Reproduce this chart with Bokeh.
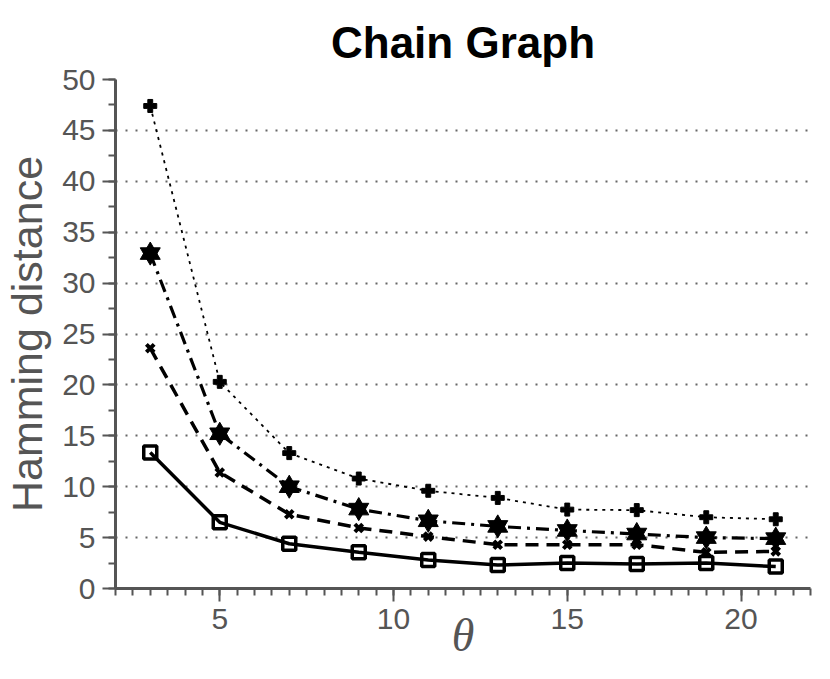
from bokeh.plotting import figure
from bokeh.models import Range1d, SingleIntervalTicker
from bokeh.embed import file_html
from bokeh.resources import INLINE

theta = [3, 5, 7, 9, 11, 13, 15, 17, 19, 21]
hd_square = [13.35, 6.5, 4.4, 3.55, 2.8, 2.3, 2.5, 2.4, 2.5, 2.15]
hd_cross = [23.6, 11.4, 7.3, 5.95, 5.1, 4.3, 4.3, 4.3, 3.55, 3.65]
hd_star = [32.9, 15.2, 10.0, 7.8, 6.65, 6.1, 5.7, 5.35, 5.0, 4.9]
hd_plus = [47.4, 20.3, 13.3, 10.8, 9.6, 8.9, 7.75, 7.7, 7.0, 6.8]

title_text = "Chain Graph"
x_label = "θ"
y_label = "Hamming distance"

GRAY = "#555555"
SANS = "Liberation Sans"

p = figure(width=814, height=663, x_range=Range1d(2, 22), y_range=Range1d(0, 50),
           output_backend="svg", toolbar_location=None, title=title_text,
           min_border_left=10, min_border_right=4, min_border_top=79, min_border_bottom=75)
p.outline_line_color = None
p.background_fill_color = "white"
p.border_fill_color = "white"

p.title.align = "center"
p.title.text_font = SANS
p.title.text_font_size = "44px"
p.title.text_font_style = "bold"
p.title.text_color = "black"
p.title.standoff = 26

for ax in (p.xaxis[0], p.yaxis[0]):
    ax.axis_line_color = GRAY
    ax.axis_line_width = 3
    ax.major_tick_line_color = GRAY
    ax.minor_tick_line_color = GRAY
    ax.major_tick_line_width = 2
    ax.minor_tick_line_width = 2
    ax.major_tick_in = 0
    ax.minor_tick_in = 0
    ax.major_tick_out = 13
    ax.minor_tick_out = 7
    ax.major_label_text_font = SANS
    ax.major_label_text_font_size = "30px"
    ax.major_label_text_color = GRAY

p.xaxis[0].ticker = SingleIntervalTicker(interval=5, num_minor_ticks=10)
p.yaxis[0].ticker = SingleIntervalTicker(interval=5, num_minor_ticks=2)
p.xaxis[0].major_label_standoff = 7
p.yaxis[0].major_label_standoff = 7

p.xaxis[0].axis_label = x_label
p.xaxis[0].axis_label_text_font = "Liberation Serif"
p.xaxis[0].axis_label_text_font_style = "italic"
p.xaxis[0].axis_label_text_font_size = "46px"
p.xaxis[0].axis_label_text_color = GRAY
p.xaxis[0].axis_label_standoff = -22

p.yaxis[0].axis_label = y_label
p.yaxis[0].axis_label_text_font = SANS
p.yaxis[0].axis_label_text_font_style = "normal"
p.yaxis[0].axis_label_text_font_size = "43px"
p.yaxis[0].axis_label_text_color = GRAY
p.yaxis[0].axis_label_standoff = 8

p.xgrid.visible = False
p.ygrid.grid_line_color = "#666666"
p.ygrid.grid_line_width = 1.8
p.ygrid.grid_line_dash = "2 8"

# dotted series with plus markers
p.line(theta, hd_plus, line_color="black", line_width=1.8, line_dash="3 5")
p.scatter(theta, hd_plus, marker="plus", size=13, fill_color="black", line_color="black", line_width=1)

# dash-dot series with hexagram markers
p.line(theta, hd_star, line_color="black", line_width=3.2, line_dash="13 6 3 6")
p.scatter(theta, hd_star, marker="triangle", size=20, fill_color="black", line_color="black", line_width=1)
p.scatter(theta, hd_star, marker="inverted_triangle", size=20, fill_color="black", line_color="black", line_width=1)

# dashed series with x markers
p.line(theta, hd_cross, line_color="black", line_width=3.5, line_dash="13 8")
p.scatter(theta, hd_cross, marker="x", size=11, line_color="black", line_width=4)

# solid series with square markers
p.line(theta, hd_square, line_color="black", line_width=3.5)
p.scatter(theta, hd_square, marker="square", size=13, fill_color=None, line_color="black", line_width=3.5)

open("out.html", "w").write(file_html(p, INLINE))
